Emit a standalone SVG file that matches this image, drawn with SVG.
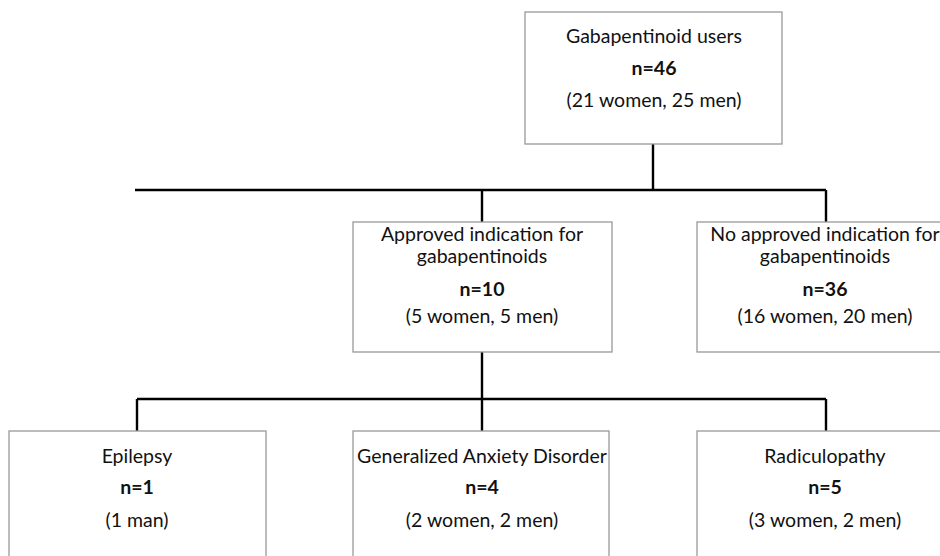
<svg xmlns="http://www.w3.org/2000/svg" width="940" height="556" viewBox="0 0 940 556">
<style>
.box{fill:#fff;stroke:#999;stroke-width:1.3}
.t{font-family:Lato,"Open Sans","Liberation Sans",sans-serif;font-size:19.5px;fill:#111;text-anchor:middle}
.b{font-weight:bold}
.c{fill:none;stroke:#000;stroke-width:2.4}
</style>
<rect width="940" height="556" fill="#fff"/>
<g id="connectors">
<path class="c" d="M653 144V190M135 190H826M482 190V222M826 190V222"/>
<path class="c" d="M482 352V399M137 399H826M137 399V431M482 399V431M826 399V431"/>
</g>
<g id="n-total">
<rect class="box" x="525" y="12" width="257" height="132"/>
<text class="t" x="654" y="43">Gabapentinoid users</text>
<text class="t b" x="654" y="75">n=46</text>
<text class="t" x="654" y="107">(21 women, 25 men)</text>
</g>
<g id="n-approved">
<rect class="box" x="353" y="222" width="259" height="130"/>
<text class="t" x="482" y="241">Approved indication for</text>
<text class="t" x="482" y="263">gabapentinoids</text>
<text class="t b" x="482" y="296">n=10</text>
<text class="t" x="482" y="323">(5 women, 5 men)</text>
</g>
<g id="n-notapproved">
<rect class="box" x="697" y="222" width="260" height="130"/>
<text class="t" x="825" y="241">No approved indication for</text>
<text class="t" x="825" y="263">gabapentinoids</text>
<text class="t b" x="825" y="296">n=36</text>
<text class="t" x="825" y="323">(16 women, 20 men)</text>
</g>
<g id="n-epilepsy">
<rect class="box" x="9" y="431" width="257" height="140"/>
<text class="t" x="137" y="463">Epilepsy</text>
<text class="t b" x="137" y="494">n=1</text>
<text class="t" x="137" y="527">(1 man)</text>
</g>
<g id="n-gad">
<rect class="box" x="353" y="431" width="256" height="140"/>
<text class="t" x="482" y="463">Generalized Anxiety Disorder</text>
<text class="t b" x="482" y="494">n=4</text>
<text class="t" x="482" y="527">(2 women, 2 men)</text>
</g>
<g id="n-radiculopathy">
<rect class="box" x="697" y="431" width="260" height="140"/>
<text class="t" x="825" y="463">Radiculopathy</text>
<text class="t b" x="825" y="494">n=5</text>
<text class="t" x="825" y="527">(3 women, 2 men)</text>
</g>
</svg>
